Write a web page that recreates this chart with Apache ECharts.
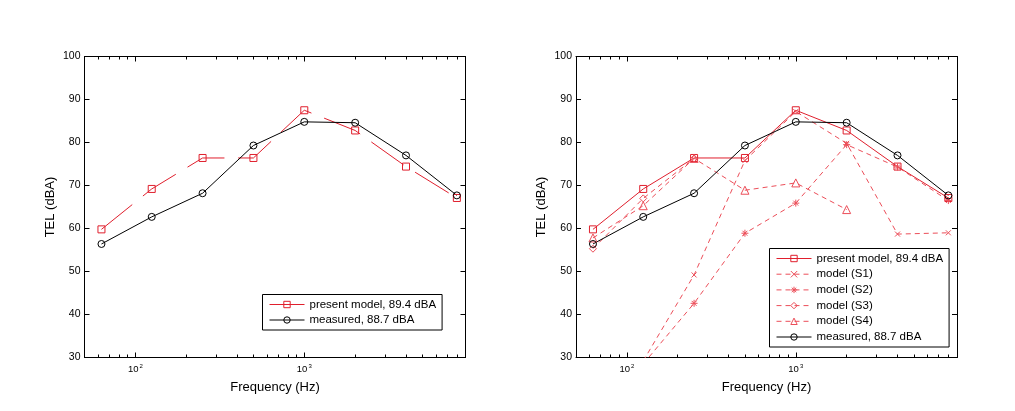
<!DOCTYPE html>
<html>
<head>
<meta charset="utf-8">
<script src="https://cdn.jsdelivr.net/npm/echarts@6.0.0/dist/echarts.min.js"></script>
<style>
html, body { margin: 0; padding: 0; background: #fff; }
#chart { width: 1015px; height: 411px; }
</style>
</head>
<body>
<div id="chart"></div>
<script>
// octave band centre frequencies (Hz)
const freq = [63, 125, 250, 500, 1000, 2000, 4000, 8000]
// TEL values (dBA)
const presentModel = [59.8, 69.2, 76.4, 76.4, 87.5, 82.8, 74.4, 67.1]
const measured = [56.4, 62.7, 68.2, 79.3, 84.8, 84.6, 77.0, 67.7]
const modelS1 = [null, 29.2, 49.2, 75.8, 87.2, 79.8, 58.7, 59.0]
const modelS2 = [null, 28.5, 42.6, 58.9, 65.9, 79.5, 74.3, 66.5]
const modelS3 = [55.3, 67.0, 76.3, null, null, null, null, null]
const modelS4 = [57.8, 65.3, 76.3, 68.9, 70.6, 64.4, null, null]

const majorTicks = [100, 1000]
const minorTicks = [60, 70, 80, 90, 200, 300, 400, 500, 600, 700, 800, 900,
  2000, 3000, 4000, 5000, 6000, 7000, 8000, 9000]

const PM = 'present model, 89.4 dBA'
const ME = 'measured, 88.7 dBA'
const RED = '#e01f2d'
const RED_D = '#ec4e59'
const FONT = 'Liberation Sans'

const pairs = (vals) => freq.map((f, i) => [f, vals[i]])

const grids = [
  { left: 84.5, top: 56.5, width: 381, height: 301 },
  { left: 576, top: 56.5, width: 381, height: 301 },
]

function xAxes(gi) {
  const base = {
    gridIndex: gi, type: 'log', logBase: 10, min: 50, max: 9000,
    splitLine: { show: false },
    axisLine: { show: false, onZero: false, lineStyle: { color: '#000', width: 1 } },
    axisLabel: { show: false },
  }
  const major = { show: true, inside: true, length: 5, customValues: majorTicks, lineStyle: { color: '#000' } }
  const minor = { show: true, inside: true, length: 3, customValues: minorTicks, lineStyle: { color: '#000' } }
  return [
    {
      ...base, position: 'bottom',
      axisLine: { ...base.axisLine, show: true },
      axisTick: major,
      axisLabel: {
        show: true, customValues: majorTicks, margin: 6, color: '#000',
        fontFamily: FONT, fontSize: 9.5,
        formatter: (v) => '10{sup|' + Math.round(Math.log10(v)) + '}',
        rich: { sup: { fontSize: 6, fontFamily: FONT, color: '#000', verticalAlign: 'top', padding: [0, 0, 5, 1] } },
      },
      name: 'Frequency (Hz)', nameLocation: 'middle', nameGap: 23,
      nameTextStyle: { fontFamily: FONT, fontSize: 13, color: '#000' },
    },
    { ...base, position: 'bottom', axisTick: minor },
    { ...base, position: 'top', axisLine: { ...base.axisLine, show: true }, axisTick: major },
    { ...base, position: 'top', axisTick: minor },
  ]
}

function yAxes(gi) {
  const base = {
    gridIndex: gi, type: 'value', min: 30, max: 100, interval: 10,
    splitLine: { show: false },
    axisLine: { show: true, onZero: false, lineStyle: { color: '#000', width: 1 } },
    axisTick: { show: true, inside: true, length: 5, lineStyle: { color: '#000' } },
  }
  return [
    {
      ...base, position: 'left',
      axisLabel: { color: '#000', fontFamily: FONT, fontSize: 10.5, margin: 4 },
      name: 'TEL (dBA)', nameLocation: 'middle', nameGap: 28, nameRotate: 90,
      nameTextStyle: { fontFamily: FONT, fontSize: 13, color: '#000' },
    },
    { ...base, position: 'right', axisLabel: { show: false } },
  ]
}

function mkSeries(name, vals, gi, symbol, size, color, dash) {
  return {
    name: name, type: 'line', xAxisIndex: gi * 4, yAxisIndex: gi * 2,
    data: pairs(vals), symbol: symbol, symbolSize: size, showAllSymbol: true,
    itemStyle: { color: 'none', borderColor: color, borderWidth: 1 },
    lineStyle: { color: color, width: 1, type: dash },
    emphasis: { disabled: true },
  }
}

const xMark = 'path://M0,0L10,10M10,0L0,10'
const star = 'path://M5,0L5,10M0,5L10,5M1.5,1.5L8.5,8.5M8.5,1.5L1.5,8.5'

const legendBase = {
  orient: 'vertical', backgroundColor: '#fff', borderColor: '#000', borderWidth: 1,
  borderRadius: 0, itemWidth: 35, itemHeight: 8,
  textStyle: { fontFamily: FONT, fontSize: 11.5, color: '#000' },
  itemStyle: { borderWidth: 1 }, lineStyle: { width: 1 },
  selectedMode: false,
}

const option = {
  animation: false,
  backgroundColor: '#fff',
  grid: grids,
  xAxis: [...xAxes(0), ...xAxes(1)],
  yAxis: [...yAxes(0), ...yAxes(1)],
  legend: [
    {
      ...legendBase, left: 262.5, top: 294.5, padding: [4, 6, 4, 6.5], itemGap: 3.5,
      data: [{ name: PM, lineStyle: { type: 'solid' } }, { name: ME }],
    },
    {
      ...legendBase, left: 769.5, top: 248.5, padding: [4, 6, 4, 6.5], itemGap: 3.7,
      data: [{ name: PM, lineStyle: { type: 'solid' } }, 'model (S1)', 'model (S2)', 'model (S3)', 'model (S4)', { name: ME }],
    },
  ],
  series: [
    // left panel
    mkSeries(PM, presentModel, 0, 'rect', 7, RED, [39.5, 13.7]),
    mkSeries(ME, measured, 0, 'circle', 7, '#000', 'solid'),
    // right panel
    mkSeries(PM, presentModel, 1, 'rect', 7, RED, 'solid'),
    mkSeries('model (S1)', modelS1, 1, xMark, 5, RED_D, [5, 4]),
    mkSeries('model (S2)', modelS2, 1, star, 7, RED_D, [5, 4]),
    mkSeries('model (S3)', modelS3, 1, 'diamond', 7, RED_D, [5, 4]),
    mkSeries('model (S4)', modelS4, 1, 'triangle', 8, RED_D, [5, 4]),
    mkSeries(ME, measured, 1, 'circle', 7, '#000', 'solid'),
  ],
}

const myChart = echarts.init(document.getElementById('chart'))
myChart.setOption(option)
</script>
</body>
</html>
